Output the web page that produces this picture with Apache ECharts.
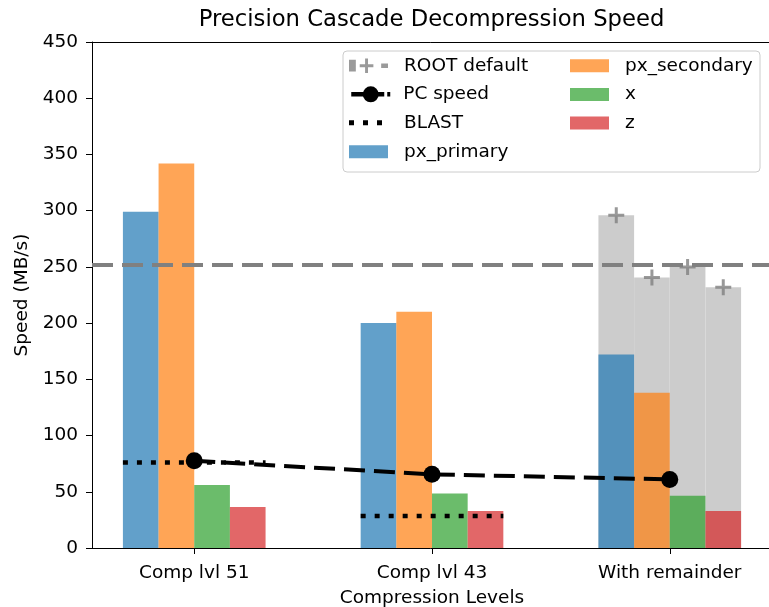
<!DOCTYPE html>
<html>
<head>
<meta charset="utf-8">
<script src="https://cdn.jsdelivr.net/npm/echarts@6/dist/echarts.min.js"></script>
<style>
  html, body { margin: 0; padding: 0; background: #fff; }
  #main { width: 769px; height: 607px; }
</style>
</head>
<body>
<div id="main"></div>
<script>
  // data
  var categories = ['Comp lvl 51', 'Comp lvl 43', 'With remainder'];
  var pxPrimary = [299, 200, 172];
  var pxSecondary = [342, 210, 138];
  var xSpeed = [56, 48.5, 46.5];
  var zSpeed = [36.5, 33, 33];
  var pcSpeed = [77.5, 65.5, 61];
  var blast = [76, 28.5, null];
  var rootDefault = [296, 240.5, 250, 232];   // one per branch, only "With remainder"
  var rootDefaultLine = 252;
  var yMin = 0, yMax = 450, yStep = 50;

  var font = 'DejaVu Sans';
  var xMin = -0.43, xMax = 2.43;
  var gridLeft = 92, gridRight = -3;
  var barUnit = 0.15;
  var pxPerUnit = (769 - gridLeft - gridRight) / (xMax - xMin);
  var barW = barUnit * pxPerUnit;
  var groupIdx = categories.map(function (c, i) { return i; });

  var barNames = ['px_primary', 'px_secondary', 'x', 'z'];
  var barColors = ['#1f77b4', '#ff7f0e', '#2ca02c', '#d62728'];
  var barValues = [pxPrimary, pxSecondary, xSpeed, zSpeed];

  // x position of each branch bar inside a group
  var offsets = barNames.map(function (n, j) { return (j - 1.5) * barUnit; });
  var rootIdx = categories.length - 1;
  var rootData = rootDefault.map(function (v, j) { return [rootIdx + offsets[j], v]; });

  // BLAST: flat segment over each group's width
  var blastData = [];
  blast.forEach(function (v, i) {
    if (v == null) return;
    blastData.push([i - 2 * barUnit, v], [i + 2 * barUnit, v], null);
  });

  var plusPath = 'path://M6.5,0H9.5V6.5H16V9.5H9.5V16H6.5V9.5H0V6.5H6.5Z';
  var rootIcon = 'path://M0,1.5H7V13.5H0Z M16.5,0H19.5V6H25V9H19.5V15H16.5V9H11V6H16.5Z M33,5.25H40V9.75H33Z';
  var dotsIcon = 'path://M0,0H5V5H0Z M14,0H19V5H14Z M28,0H33V5H28Z';

  var series = [];
  // ROOT default grey bars sit behind the coloured ones
  series.push({
    type: 'bar', name: 'ROOT default', xAxisIndex: 1,
    data: rootData, barWidth: barW,
    itemStyle: { color: '#cccccc' }, z: 1
  });
  barNames.forEach(function (n, j) {
    series.push({
      type: 'bar', name: n, xAxisIndex: 0,
      data: barValues[j].map(function (v, i) { return [i, v]; }),
      barWidth: barW, barGap: '0%',
      itemStyle: { color: barColors[j], opacity: 0.7 }, z: 2
    });
  });
  series.push({
    type: 'scatter', name: 'ROOT default', xAxisIndex: 1,
    data: rootData, symbol: plusPath, symbolSize: 16,
    itemStyle: { color: '#808080' }, z: 4,
    markLine: {
      silent: true, symbol: 'none', label: { show: false },
      lineStyle: { color: '#808080', width: 4, type: [21, 9] },
      data: [{ yAxis: rootDefaultLine }]
    }
  });
  series.push({
    type: 'line', name: 'BLAST', xAxisIndex: 0,
    data: blastData, showSymbol: false, symbol: 'none',
    lineStyle: { color: '#000', width: 4.5, type: [5, 9], cap: 'butt' },
    itemStyle: { color: '#000' }, z: 5
  });
  series.push({
    type: 'line', name: 'PC speed', xAxisIndex: 0,
    data: pcSpeed.map(function (v, i) { return [i, v]; }),
    symbol: 'circle', symbolSize: 17,
    lineStyle: { color: '#000', width: 4, type: [21, 9] },
    itemStyle: { color: '#000' }, z: 6
  });

  // one legend block per handle size, placed row by row
  function legendBlock(left, top, itemWidth, itemHeight, textPad, data) {
    return {
      orient: 'vertical', left: left, top: top,
      itemWidth: itemWidth, itemHeight: itemHeight, itemGap: 28.7 - Math.max(itemHeight, 20),
      selectedMode: false, z: 10, padding: 0,
      textStyle: { fontFamily: font, fontSize: 18.5, color: '#000', lineHeight: 20, padding: [0, 0, 0, textPad] },
      data: data
    };
  }

  var chart = echarts.init(document.getElementById('main'));
  chart.setOption({
    animation: false,
    textStyle: { fontFamily: font },
    title: {
      text: 'Precision Cascade Decompression Speed',
      left: 426.5, top: 4, textAlign: 'center',
      textStyle: { fontFamily: font, fontSize: 22.7, fontWeight: 'normal', color: '#000' }
    },
    grid: { left: gridLeft, right: gridRight, top: 42, bottom: 59, containLabel: false, outerBoundsMode: 'none' },
    legend: [
      legendBlock(349, 55.7, 39, 15, 11, [
        { name: 'ROOT default', icon: rootIcon, itemStyle: { color: '#9a9a9a' } }
      ]),
      legendBlock(349, 84.3, 39, 20, 8, [
        { name: 'PC speed', lineStyle: { width: 4.5, type: [33, 3] } }
      ]),
      legendBlock(349, 112.7, 33, 5, 17, [
        { name: 'BLAST', icon: dotsIcon, itemStyle: { color: '#000' } }
      ]),
      legendBlock(349, 141.7, 39, 13, 11, [
        { name: 'px_primary', icon: 'rect' }
      ]),
      legendBlock(570, 55.7, 39, 13, 11, [
        { name: 'px_secondary', icon: 'rect' },
        { name: 'x', icon: 'rect' },
        { name: 'z', icon: 'rect' }
      ])
    ],
    graphic: [{
      type: 'rect', z: 9,
      shape: { x: 343, y: 51, width: 417, height: 121, r: 4 },
      style: { fill: 'rgba(255,255,255,0.8)', stroke: '#cccccc', lineWidth: 1 }
    }],
    xAxis: [{
      type: 'value', min: xMin, max: xMax, position: 'bottom',
      axisLine: { show: true, onZero: false, lineStyle: { color: '#000', width: 1 } },
      axisTick: { show: true, length: 6, customValues: groupIdx, lineStyle: { color: '#000' } },
      axisLabel: {
        customValues: groupIdx, margin: 16, fontSize: 18.5, color: '#000', fontFamily: font,
        formatter: function (v) { return categories[Math.round(v)]; }
      },
      splitLine: { show: false },
      name: 'Compression Levels', nameLocation: 'middle', nameGap: 41,
      nameTextStyle: { fontSize: 18.5, color: '#000', fontFamily: font }
    }, {
      type: 'value', min: xMin, max: xMax, position: 'top',
      axisLine: { show: true, onZero: false, lineStyle: { color: '#000', width: 1 } },
      axisTick: { show: false }, axisLabel: { show: false }, splitLine: { show: false }
    }],
    yAxis: {
      type: 'value', min: yMin, max: yMax, interval: yStep,
      axisLine: { show: true, onZero: false, lineStyle: { color: '#000', width: 1 } },
      axisTick: { show: true, length: 6, lineStyle: { color: '#000' } },
      axisLabel: { margin: 14, fontSize: 18.5, color: '#000', fontFamily: font },
      splitLine: { show: false },
      name: 'Speed (MB/s)', nameLocation: 'middle', nameGap: 60,
      nameTextStyle: { fontSize: 18.5, color: '#000', fontFamily: font }
    },
    series: series
  });
</script>
</body>
</html>
